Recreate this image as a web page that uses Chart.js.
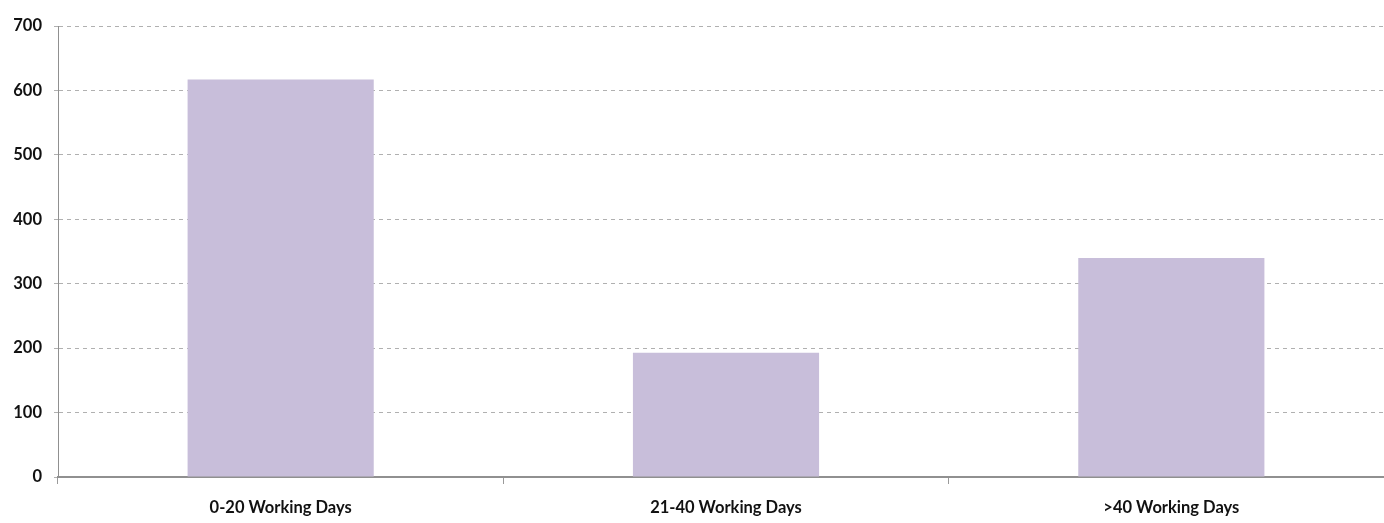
<!DOCTYPE html>
<html>
<head>
<meta charset="utf-8">
<script src="https://cdn.jsdelivr.net/npm/chart.js@4/dist/chart.umd.min.js"></script>
<style>
  html, body { margin: 0; padding: 0; background: #ffffff; overflow: hidden; }
  #wrap { width: 1394px; height: 523px; position: relative; }
</style>
</head>
<body>
<div id="wrap"><canvas id="c"></canvas></div>
<script>
// Workload by elapsed working days
const categories = ['0-20 Working Days', '21-40 Working Days', '>40 Working Days'];
const counts = [617, 193, 340];
const yTicks = [0, 100, 200, 300, 400, 500, 600, 700];

const labelFont = { family: 'Lato, sans-serif', weight: 'bold', size: 16.5 };

new Chart(document.getElementById('c'), {
  type: 'bar',
  data: {
    labels: categories,
    datasets: [{
      data: counts,
      backgroundColor: '#C8BEDA',
      borderWidth: 0,
      barPercentage: 0.418,
      categoryPercentage: 1.0
    }]
  },
  options: {
    responsive: true,
    maintainAspectRatio: false,
    animation: false,
    layout: { padding: { top: 26, right: 0, bottom: 0, left: 0 } },
    plugins: { legend: { display: false }, tooltip: { enabled: false } },
    scales: {
      x: {
        offset: true,
        grid: {
          offset: true,
          drawOnChartArea: false,
          drawTicks: true,
          tickLength: 7,
          tickColor: '#9a9a9a',
          tickWidth: 1
        },
        border: { color: '#909090', width: 2 },
        ticks: { color: '#111111', font: labelFont, padding: 14, maxRotation: 0 },
        afterFit: s => { s.height = 46; }
      },
      y: {
        min: yTicks[0],
        max: yTicks[yTicks.length - 1],
        afterBuildTicks: s => { s.ticks = yTicks.map(v => ({ value: v })); },
        grid: {
          color: '#b0b0b0',
          lineWidth: 1,
          tickLength: 4,
          tickColor: '#b0b0b0'
        },
        // dash pattern here applies to the horizontal gridlines
        border: { color: '#909090', width: 1, display: true, dash: [4, 4] },
        ticks: { color: '#111111', font: labelFont, padding: 12 },
        afterFit: s => { s.width = 58; }
      }
    }
  }
});
</script>
</body>
</html>
